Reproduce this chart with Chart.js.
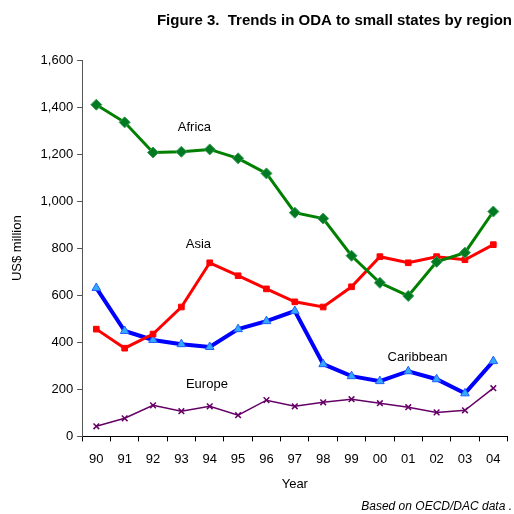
<!DOCTYPE html>
<html>
<head>
<meta charset="utf-8">
<script src="https://cdn.jsdelivr.net/npm/chart.js@4.4.1/dist/chart.umd.min.js"></script>
<style>
  html, body { margin: 0; padding: 0; background: #fff; }
  #wrap { width: 514px; height: 514px; }
</style>
</head>
<body>
<div id="wrap"><canvas id="oda"></canvas></div>
<script>
// data (US$ million)
const years = ['90', '91', '92', '93', '94', '95', '96', '97', '98', '99', '00', '01', '02', '03', '04'];
const africa = [1410, 1335, 1207, 1210, 1220, 1182, 1118, 951, 926, 768, 653, 597, 742, 781, 956];
const asia = [456, 375, 435, 550, 738, 683, 627, 572, 550, 636, 764, 738, 764, 751, 815];
const caribbean = [631, 448, 410, 392, 380, 456, 490, 533, 307, 256, 235, 277, 243, 183, 320];
const europe = [43, 77, 132, 107, 128, 90, 154, 128, 145, 158, 141, 124, 102, 111, 205];

// region names placed next to their lines (category index, value)
const labelNames = ['Africa', 'Asia', 'Caribbean', 'Europe'];
const labelX = [3.46, 3.6, 11.33, 3.9];
const labelY = [1314, 815, 337, 222];

const font = 'Liberation Sans, Arial, sans-serif';

const regionLabels = {
    id: 'regionLabels',
    afterDatasetsDraw(chart) {
        const ctx = chart.ctx;
        const xs = chart.scales.x;
        const ys = chart.scales.y;
        ctx.save();
        ctx.font = '13px ' + font;
        ctx.fillStyle = '#000';
        ctx.textAlign = 'center';
        ctx.textBaseline = 'middle';
        for (let i = 0; i < labelNames.length; i++) {
            const x0 = xs.getPixelForValue(Math.floor(labelX[i]));
            const x1 = xs.getPixelForValue(Math.floor(labelX[i]) + 1);
            const px = x0 + (x1 - x0) * (labelX[i] % 1);
            ctx.fillText(labelNames[i], px, ys.getPixelForValue(labelY[i]));
        }
        ctx.restore();
    }
};

new Chart(document.getElementById('oda'), {
    type: 'line',
    data: {
        labels: years,
        datasets: [
            {
                label: 'Africa', data: africa,
                borderColor: '#008000', borderWidth: 3,
                pointStyle: 'rectRot', pointRadius: 5.5,
                pointBackgroundColor: '#007a20', pointBorderColor: '#3c9a5a', pointBorderWidth: 1
            },
            {
                label: 'Asia', data: asia,
                borderColor: '#ff0000', borderWidth: 3,
                pointStyle: 'rect', pointRadius: 4,
                pointBackgroundColor: '#ff0000', pointBorderColor: '#ff0000', pointBorderWidth: 1
            },
            {
                label: 'Caribbean', data: caribbean,
                borderColor: '#0000ff', borderWidth: 4,
                pointStyle: 'triangle', pointRadius: 5,
                pointBackgroundColor: '#33aaff', pointBorderColor: '#2060ff', pointBorderWidth: 1
            },
            {
                label: 'Europe', data: europe,
                borderColor: '#660066', borderWidth: 1.5,
                pointStyle: 'crossRot', pointRadius: 4,
                pointBackgroundColor: '#660066', pointBorderColor: '#660066', pointBorderWidth: 1.5
            }
        ]
    },
    options: {
        responsive: true,
        maintainAspectRatio: false,
        animation: false,
        layout: { padding: { left: 10, right: 2, top: 0, bottom: 0 } },
        elements: { line: { tension: 0 } },
        plugins: {
            legend: { display: false },
            tooltip: { enabled: false },
            title: {
                display: true,
                text: 'Figure 3.  Trends in ODA to small states by region',
                align: 'end',
                color: '#000',
                font: { family: font, size: 15, weight: 'bold' },
                padding: { top: 12, bottom: 30 }
            },
            subtitle: {
                display: true,
                position: 'bottom',
                align: 'end',
                text: 'Based on OECD/DAC data .',
                color: '#000',
                font: { family: font, size: 12, style: 'italic' },
                padding: { top: 7, bottom: 0 }
            }
        },
        scales: {
            x: {
                type: 'category',
                offset: true,
                grid: { offset: true, drawOnChartArea: false, drawTicks: true, tickLength: 5, color: '#000' },
                border: { color: '#000', width: 1 },
                ticks: { color: '#000', font: { family: font, size: 13 }, padding: 10, maxRotation: 0 },
                title: { display: true, text: 'Year', color: '#000', font: { family: font, size: 13 }, padding: { top: 0, bottom: 0 } }
            },
            y: {
                min: 0, max: 1600,
                ticks: { stepSize: 200, color: '#000', font: { family: font, size: 13 }, padding: 4 },
                grid: { drawOnChartArea: false, drawTicks: true, tickLength: 5, color: '#555' },
                border: { color: '#555', width: 1 },
                title: { display: true, text: 'US$ million', color: '#000', font: { family: font, size: 13 }, padding: { top: 0, bottom: 11 } }
            }
        }
    },
    plugins: [regionLabels]
});
</script>
</body>
</html>
